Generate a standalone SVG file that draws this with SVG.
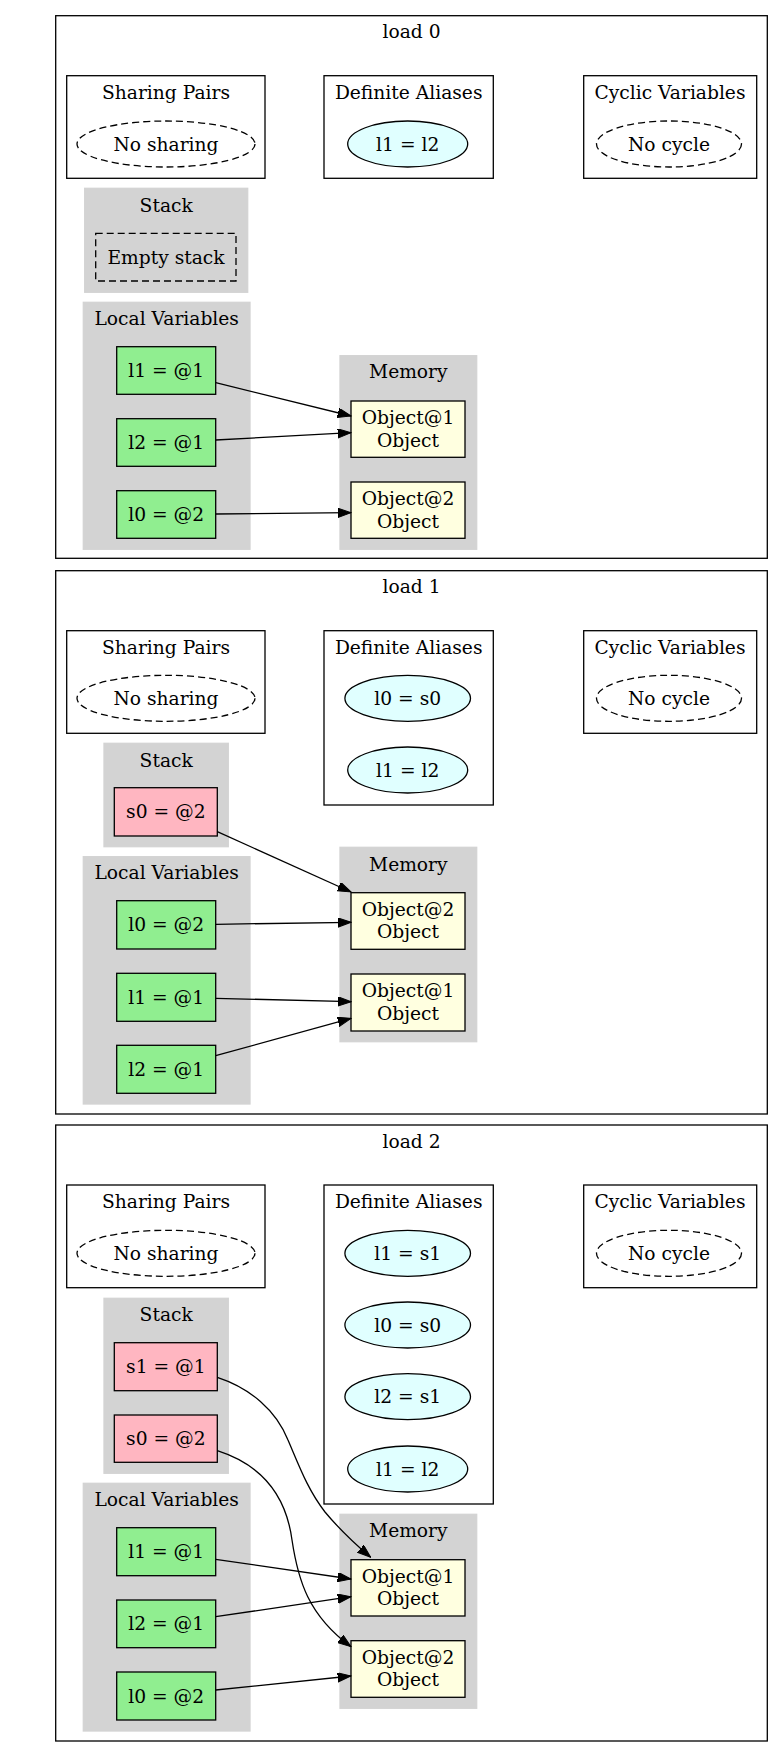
<svg xmlns="http://www.w3.org/2000/svg" width="779" height="1757" viewBox="0 0 779 1757">
<style>
  text { font-family: "DejaVu Serif", "Liberation Serif", serif; font-size: 18.67px; fill: #000; text-anchor: middle; }
  .frame { fill: #fff; stroke: #000; stroke-width: 1.3; }
  .grey { fill: #d3d3d3; stroke: #d3d3d3; stroke-width: 1.3; }
  .var { fill: #90ee90; stroke: #000; stroke-width: 1.3; }
  .stk { fill: #ffb6c1; stroke: #000; stroke-width: 1.3; }
  .obj { fill: #ffffe0; stroke: #000; stroke-width: 1.3; }
  .alias { fill: #e0ffff; stroke: #000; stroke-width: 1.3; }
  .none { fill: none; stroke: #000; stroke-width: 1.3; stroke-dasharray: 7,4; }
  .edge { fill: none; stroke: #000; stroke-width: 1.3; marker-end: url(#arrow); }
</style>
<defs>
  <marker id="arrow" markerUnits="userSpaceOnUse" markerWidth="14" markerHeight="10" refX="13.3" refY="4.7" orient="auto">
    <path d="M0,0 L13.3,4.7 L0,9.4 Z" fill="#000" stroke="#000" stroke-width="1"/>
  </marker>
</defs>
<rect width="779" height="1757" fill="#fff"/>

<!-- ============ load 0 ============ -->
<g id="load0">
  <rect class="frame" x="55.7" y="15.7" width="711.6" height="542.6"/>
  <text x="411.5" y="38">load 0</text>
</g>
<g id="load0-sharing">
  <rect class="frame" x="66.7" y="75.7" width="198.3" height="102.6"/>
  <text x="166" y="99">Sharing Pairs</text>
  <ellipse class="none" cx="166" cy="144" rx="89" ry="23"/>
  <text x="166" y="150.5">No sharing</text>
</g>
<g id="load0-aliases">
  <rect class="frame" x="324" y="75.7" width="169.3" height="102.6"/>
  <text x="408.7" y="99">Definite Aliases</text>
  <ellipse class="alias" cx="407.7" cy="144" rx="60" ry="23"/>
  <text x="407.7" y="150.5">l1 = l2</text>
</g>
<g id="load0-cyclic">
  <rect class="frame" x="583.7" y="75.7" width="173" height="102.6"/>
  <text x="670" y="99">Cyclic Variables</text>
  <ellipse class="none" cx="669" cy="144" rx="72.5" ry="23"/>
  <text x="669" y="150.5">No cycle</text>
</g>
<g id="load0-stack">
  <rect class="grey" x="84.7" y="188.3" width="163" height="104"/>
  <text x="166.2" y="212">Stack</text>
  <rect class="none" x="95.7" y="233.3" width="140.3" height="47.7"/>
  <text x="166" y="263.5">Empty stack</text>
</g>
<g id="load0-locals">
  <rect class="grey" x="83.3" y="302.3" width="166.7" height="247"/>
  <text x="166.7" y="325">Local Variables</text>
</g>
<g id="load0-l1">
  <rect class="var" x="116.7" y="346.7" width="99" height="47.6"/>
  <text x="166.2" y="377">l1 = @1</text>
</g>
<g id="load0-l2">
  <rect class="var" x="116.7" y="418.7" width="99" height="47.6"/>
  <text x="166.2" y="449">l2 = @1</text>
</g>
<g id="load0-l0">
  <rect class="var" x="116.7" y="490.7" width="99" height="47.6"/>
  <text x="166.2" y="521">l0 = @2</text>
</g>
<g id="load0-memory">
  <rect class="grey" x="340" y="355.7" width="136.7" height="193.6"/>
  <text x="408.3" y="378">Memory</text>
</g>
<g id="load0-obj1">
  <rect class="obj" x="351" y="401" width="114" height="56.3"/>
  <text x="408" y="424">Object@1</text>
  <text x="408" y="446.5">Object</text>
</g>
<g id="load0-obj2">
  <rect class="obj" x="351" y="482" width="114" height="56.3"/>
  <text x="408" y="505">Object@2</text>
  <text x="408" y="527.5">Object</text>
</g>

<!-- ============ load 1 ============ -->
<g id="load1">
  <rect class="frame" x="55.7" y="570.7" width="711.6" height="543.3"/>
  <text x="411.5" y="593.3">load 1</text>
</g>
<g id="load1-sharing">
  <rect class="frame" x="66.7" y="630.7" width="198.3" height="102.6"/>
  <text x="166" y="654">Sharing Pairs</text>
  <ellipse class="none" cx="166" cy="698.3" rx="89" ry="23"/>
  <text x="166" y="704.8">No sharing</text>
</g>
<g id="load1-aliases">
  <rect class="frame" x="324" y="630.7" width="169.3" height="174.3"/>
  <text x="408.7" y="654">Definite Aliases</text>
  <ellipse class="alias" cx="407.7" cy="698.3" rx="62.8" ry="23"/>
  <text x="407.7" y="704.8">l0 = s0</text>
  <ellipse class="alias" cx="407.7" cy="770" rx="60" ry="23"/>
  <text x="407.7" y="776.5">l1 = l2</text>
</g>
<g id="load1-cyclic">
  <rect class="frame" x="583.7" y="630.7" width="173" height="102.6"/>
  <text x="670" y="654">Cyclic Variables</text>
  <ellipse class="none" cx="669" cy="698.3" rx="72.5" ry="23"/>
  <text x="669" y="704.8">No cycle</text>
</g>
<g id="load1-stack">
  <rect class="grey" x="104" y="743.3" width="124.3" height="103.4"/>
  <text x="166.2" y="766.7">Stack</text>
</g>
<g id="load1-s0">
  <rect class="stk" x="114.3" y="787.7" width="103" height="48.3"/>
  <text x="165.8" y="818.3">s0 = @2</text>
</g>
<g id="load1-locals">
  <rect class="grey" x="83.3" y="856.7" width="166.7" height="247.3"/>
  <text x="166.7" y="879.3">Local Variables</text>
</g>
<g id="load1-l0">
  <rect class="var" x="116.7" y="900.7" width="99" height="48.3"/>
  <text x="166.2" y="931.3">l0 = @2</text>
</g>
<g id="load1-l1">
  <rect class="var" x="116.7" y="973.3" width="99" height="48"/>
  <text x="166.2" y="1003.8">l1 = @1</text>
</g>
<g id="load1-l2">
  <rect class="var" x="116.7" y="1045.3" width="99" height="48"/>
  <text x="166.2" y="1075.8">l2 = @1</text>
</g>
<g id="load1-memory">
  <rect class="grey" x="340" y="847.3" width="136.7" height="194.4"/>
  <text x="408.3" y="870.7">Memory</text>
</g>
<g id="load1-obj2">
  <rect class="obj" x="351" y="892.7" width="114" height="56.6"/>
  <text x="408" y="915.8">Object@2</text>
  <text x="408" y="938.3">Object</text>
</g>
<g id="load1-obj1">
  <rect class="obj" x="351" y="974" width="114" height="57"/>
  <text x="408" y="997.3">Object@1</text>
  <text x="408" y="1019.8">Object</text>
</g>

<!-- ============ load 2 ============ -->
<g id="load2">
  <rect class="frame" x="55.7" y="1125" width="711.6" height="616"/>
  <text x="411.5" y="1148.3">load 2</text>
</g>
<g id="load2-sharing">
  <rect class="frame" x="66.7" y="1185" width="198.3" height="102.7"/>
  <text x="166" y="1208.3">Sharing Pairs</text>
  <ellipse class="none" cx="166" cy="1253.3" rx="89" ry="23"/>
  <text x="166" y="1259.8">No sharing</text>
</g>
<g id="load2-aliases">
  <rect class="frame" x="324" y="1185" width="169.3" height="319"/>
  <text x="408.7" y="1208.3">Definite Aliases</text>
  <ellipse class="alias" cx="407.7" cy="1253.3" rx="62.8" ry="23"/>
  <text x="407.7" y="1259.8">l1 = s1</text>
  <ellipse class="alias" cx="407.7" cy="1325" rx="62.8" ry="23"/>
  <text x="407.7" y="1331.5">l0 = s0</text>
  <ellipse class="alias" cx="407.7" cy="1396.7" rx="62.8" ry="23"/>
  <text x="407.7" y="1403.2">l2 = s1</text>
  <ellipse class="alias" cx="407.7" cy="1469" rx="60" ry="23"/>
  <text x="407.7" y="1475.5">l1 = l2</text>
</g>
<g id="load2-cyclic">
  <rect class="frame" x="583.7" y="1185" width="173" height="102.7"/>
  <text x="670" y="1208.3">Cyclic Variables</text>
  <ellipse class="none" cx="669" cy="1253.3" rx="72.5" ry="23"/>
  <text x="669" y="1259.8">No cycle</text>
</g>
<g id="load2-stack">
  <rect class="grey" x="104" y="1298.3" width="124.3" height="175"/>
  <text x="166.2" y="1320.5">Stack</text>
</g>
<g id="load2-s1">
  <rect class="stk" x="114.3" y="1342.7" width="103" height="48"/>
  <text x="165.8" y="1373.2">s1 = @1</text>
</g>
<g id="load2-s0">
  <rect class="stk" x="114.3" y="1415" width="103" height="47.3"/>
  <text x="165.8" y="1445.2">s0 = @2</text>
</g>
<g id="load2-locals">
  <rect class="grey" x="83.3" y="1483.3" width="166.7" height="247.7"/>
  <text x="166.7" y="1506">Local Variables</text>
</g>
<g id="load2-l1">
  <rect class="var" x="116.7" y="1527.7" width="99" height="48"/>
  <text x="166.2" y="1558.2">l1 = @1</text>
</g>
<g id="load2-l2">
  <rect class="var" x="116.7" y="1600" width="99" height="47.7"/>
  <text x="166.2" y="1630.4">l2 = @1</text>
</g>
<g id="load2-l0">
  <rect class="var" x="116.7" y="1672" width="99" height="48"/>
  <text x="166.2" y="1702.5">l0 = @2</text>
</g>
<g id="load2-memory">
  <rect class="grey" x="340" y="1514.3" width="136.7" height="194"/>
  <text x="408.3" y="1537.3">Memory</text>
</g>
<g id="load2-obj1">
  <rect class="obj" x="351" y="1559.7" width="114" height="56.3"/>
  <text x="408" y="1582.8">Object@1</text>
  <text x="408" y="1605.3">Object</text>
</g>
<g id="load2-obj2">
  <rect class="obj" x="351" y="1640.7" width="114" height="56.6"/>
  <text x="408" y="1663.8">Object@2</text>
  <text x="408" y="1686.3">Object</text>
</g>

<!-- ============ connectors ============ -->
<g id="edges">
  <path class="edge" d="M215.7,382.7 L351,416"/>
  <path class="edge" d="M215.7,440 L351,432.7"/>
  <path class="edge" d="M215.7,514 L351,512.7"/>

  <path class="edge" d="M217.3,831.7 L351,892"/>
  <path class="edge" d="M215.7,924.3 L351,922.3"/>
  <path class="edge" d="M215.7,998.3 L351,1001.7"/>
  <path class="edge" d="M215.7,1055.7 L351,1018.3"/>

  <path class="edge" d="M217.3,1377.3 C250,1388 276,1410 288,1440 C300,1468 308,1490 325,1512 C340,1530 355,1544 370.7,1557.3"/>
  <path class="edge" d="M217.3,1450.7 C262,1465 286,1495 292,1540 C298,1580 308,1615 351,1646.7"/>
  <path class="edge" d="M215.7,1559.3 L351,1579"/>
  <path class="edge" d="M215.7,1616.7 L351,1596.7"/>
  <path class="edge" d="M215.7,1690 L351,1676"/>
</g>
</svg>
